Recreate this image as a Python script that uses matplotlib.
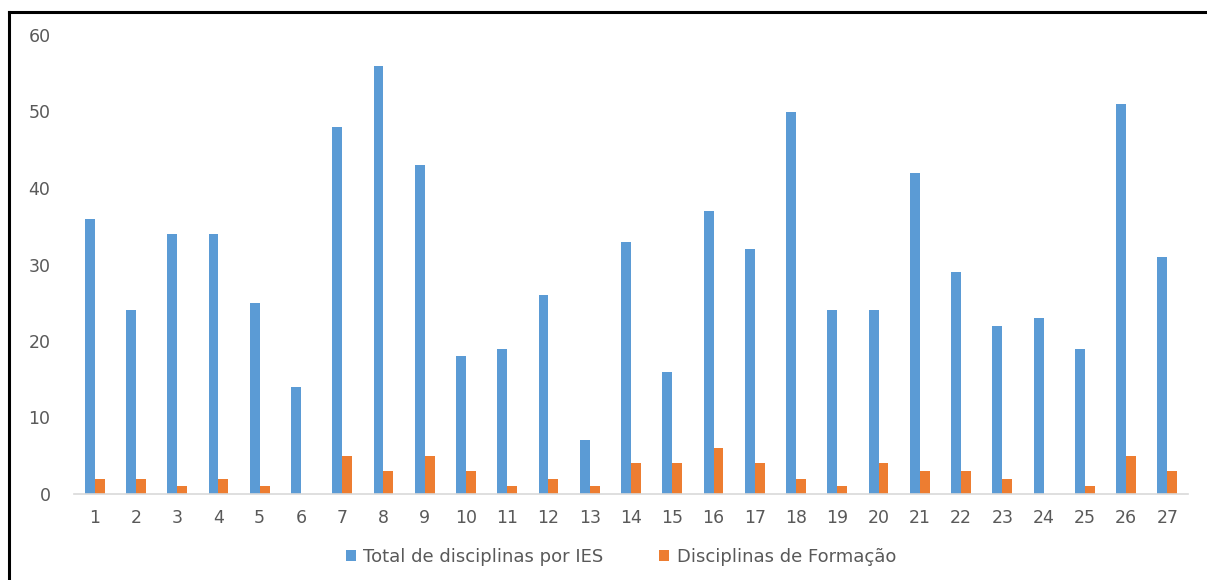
import matplotlib
matplotlib.use("Agg")
import matplotlib.pyplot as plt
import numpy as np
from matplotlib.lines import Line2D

categories = [str(i) for i in range(1, 28)]
total_ies = [36, 24, 34, 34, 25, 14, 48, 56, 43, 18, 19, 26, 7, 33, 16, 37, 32, 50, 24, 24, 42, 29, 22, 23, 19, 51, 31]
formacao = [2, 2, 1, 2, 1, 0, 5, 3, 5, 3, 1, 2, 1, 4, 4, 6, 4, 2, 1, 4, 3, 3, 2, 0, 1, 5, 3]
series_labels = ["Total de disciplinas por IES", "Disciplinas de Formação"]
yticks = [0, 10, 20, 30, 40, 50, 60]

plt.rcParams['font.family'] = ['DejaVu Sans']

fig = plt.figure(figsize=(12.07, 5.80), dpi=100)
ax = fig.add_axes([74/1207, 1-494/580, (1188-74)/1207, (494-35)/580])

x = np.arange(1, len(categories) + 1)
w = 0.24
ax.bar(x - w/2, total_ies, width=w, color="#5B9BD5", label=series_labels[0])
ax.bar(x + w/2, formacao, width=w, color="#ED7D31", label=series_labels[1])

ax.set_xlim(0.5, 27.5)
ax.set_ylim(0, 60)
ax.set_xticks(x)
ax.set_xticklabels(categories)
ax.set_yticks(yticks)
for s in ["top", "right", "left"]:
    ax.spines[s].set_visible(False)
ax.spines["bottom"].set_color("#D9D9D9")
ax.spines["bottom"].set_linewidth(1.2)
ax.tick_params(axis="both", length=0, labelsize=12.5, labelcolor="#595959")
ax.tick_params(axis="x", pad=11)
ax.tick_params(axis="y", pad=17)

leg = fig.legend(loc="center", bbox_to_anchor=(621/1207, 1-557/580), ncol=2, frameon=False,
                 fontsize=13, handlelength=0.55, handleheight=0.6, columnspacing=3.1, handletextpad=0.4)
for t in leg.get_texts():
    t.set_color("#595959")

# outer frame (top and left)
fig.add_artist(Line2D([9/1207, 1], [1-12/580, 1-12/580], color="black", linewidth=2.2, transform=fig.transFigure))
fig.add_artist(Line2D([9/1207, 9/1207], [0, 1-12/580], color="black", linewidth=2.2, transform=fig.transFigure))

fig.savefig("out.png", dpi=100)
